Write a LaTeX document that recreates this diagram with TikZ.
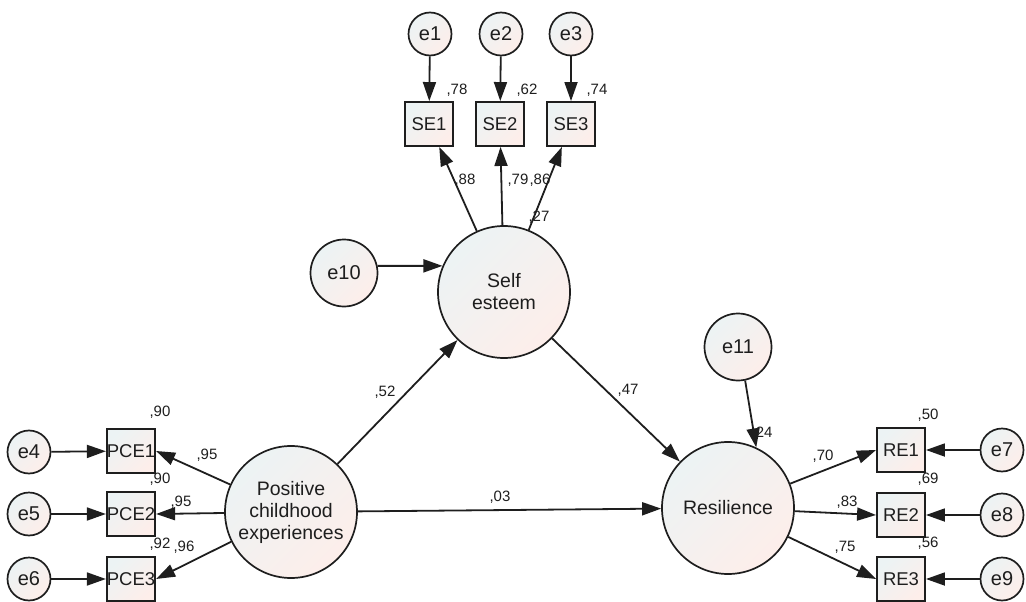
\documentclass[tikz,border=0pt]{standalone}
\usepackage{fontspec}
\setmainfont{Liberation Sans}
\usetikzlibrary{arrows.meta}
\definecolor{fillA}{RGB}{236,243,244}
\definecolor{fillB}{RGB}{253,238,234}
\definecolor{ink}{RGB}{30,30,30}
\tikzset{
  shadefill/.style={left color=fillA, right color=fillB, shading angle=45},
  latent/.style={circle, draw=ink, line width=1.7pt, minimum size=132pt, inner sep=0pt, shadefill, text=ink, align=center, font=\fontsize{19.5}{22}\selectfont},
  errs/.style={circle, draw=ink, line width=1.7pt, minimum size=43pt, inner sep=0pt, shadefill, text=ink, font=\fontsize{20}{22}\selectfont},
  errb/.style={circle, draw=ink, line width=1.7pt, minimum size=67pt, inner sep=0pt, shadefill, text=ink, font=\fontsize{20}{22}\selectfont},
  obs/.style={rectangle, draw=ink, line width=1.9pt, minimum width=48pt, minimum height=44pt, inner sep=0pt, shadefill, text=ink, font=\fontsize{18.5}{20}\selectfont},
  lbl/.style={inner sep=0pt, text=ink, font=\fontsize{15}{17}\selectfont},
  arr/.style={draw=ink, line width=1.8pt, -{Triangle[length=19pt,width=13pt]}},
}
\begin{document}
\begin{tikzpicture}[x=1pt, y=-1pt]
\useasboundingbox (0,0) rectangle (1026,602);
% latent variables
\node[latent] (se) at (504,292) {Self\\esteem};
\node[latent] (pce) at (291,512) {Positive\\childhood\\experiences};
\node[latent] (res) at (728,508) {Resilience};
% errors
\node[errs] (e1) at (430,34) {e1};
\node[errs] (e2) at (501,34) {e2};
\node[errs] (e3) at (571,34) {e3};
\node[errs] (e4) at (29,452) {e4};
\node[errs] (e5) at (29,514) {e5};
\node[errs] (e6) at (29,579) {e6};
\node[errs] (e7) at (1002,450) {e7};
\node[errs] (e8) at (1002,515) {e8};
\node[errs] (e9) at (1002,579) {e9};
\node[errb] (e10) at (344,273) {e10};
\node[errb] (e11) at (738,347) {e11};
% observed
\node[obs] (se1) at (429,124) {SE1};
\node[obs] (se2) at (500,124) {SE2};
\node[obs] (se3) at (571,124) {SE3};
\node[obs] (pce1) at (131,451) {PCE1};
\node[obs] (pce2) at (131,514) {PCE2};
\node[obs] (pce3) at (131,579) {PCE3};
\node[obs] (re1) at (901,450) {RE1};
\node[obs] (re2) at (901,515) {RE2};
\node[obs] (re3) at (901,579) {RE3};
% labels
\node[lbl] (l78) at (457,90) {,78};
\node[lbl] (l62) at (527,90) {,62};
\node[lbl] (l74) at (597,90) {,74};
\node[lbl] (l88) at (465,180) {,88};
\node[lbl] (l79) at (518,180) {,79};
\node[lbl] (l86) at (540,180) {,86};
\node[lbl] (l27) at (539,217) {,27};
\node[lbl] (l52) at (385,392) {,52};
\node[lbl] (l47) at (628,390) {,47};
\node[lbl] (l03) at (500,497) {,03};
\node[lbl] (l90a) at (160,412) {,90};
\node[lbl] (l95a) at (207,455) {,95};
\node[lbl] (l90b) at (160,479) {,90};
\node[lbl] (l95b) at (181,502) {,95};
\node[lbl] (l92) at (160,544) {,92};
\node[lbl] (l96) at (184,547) {,96};
\node[lbl] (l50) at (928,415) {,50};
\node[lbl] (l69) at (928,479) {,69};
\node[lbl] (l56) at (928,543) {,56};
\node[lbl] (l70) at (823,456) {,70};
\node[lbl] (l83) at (847,502) {,83};
\node[lbl] (l75) at (845,547) {,75};
\node[lbl] (l24) at (762,433) {,24};
% connectors
\draw[arr] (e1) -- (se1);
\draw[arr] (e2) -- (se2);
\draw[arr] (e3) -- (se3);
\draw[arr] (se) -- (se1);
\draw[arr] (se) -- (se2);
\draw[arr] (se) -- (se3);
\draw[arr] (e10.12) -- (se.157);
\draw[arr] (pce) -- (se);
\draw[arr] (se) -- (res);
\draw[arr] (pce) -- (res);
\draw[arr] (e11.-78) -- (res.65);
\draw[arr] (pce) -- (pce1.east);
\draw[arr] (pce) -- (pce2.east);
\draw[arr] (pce) -- (pce3.east);
\draw[arr] (e4) -- (pce1);
\draw[arr] (e5) -- (pce2);
\draw[arr] (e6) -- (pce3);
\draw[arr] (res) -- (re1.west);
\draw[arr] (res) -- (re2.west);
\draw[arr] (res) -- (re3.west);
\draw[arr] (e7) -- (re1);
\draw[arr] (e8) -- (re2);
\draw[arr] (e9) -- (re3);
\end{tikzpicture}
\end{document}
